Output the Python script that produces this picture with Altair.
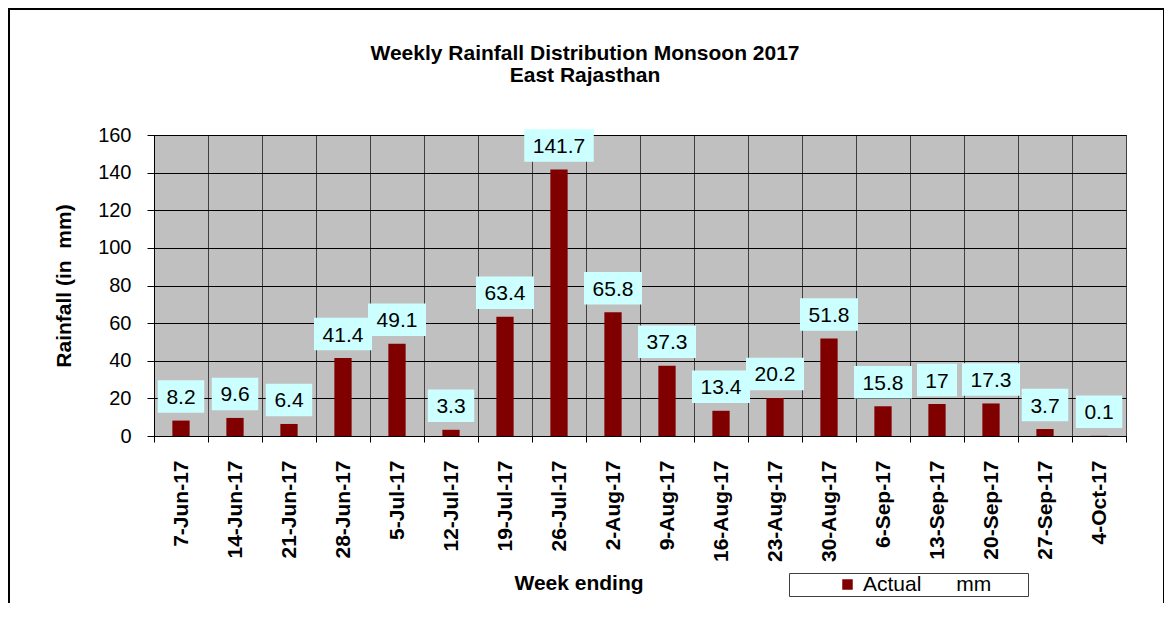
import altair as alt
import pandas as pd

# ---- data ----
weeks = ["7-Jun-17", "14-Jun-17", "21-Jun-17", "28-Jun-17", "5-Jul-17", "12-Jul-17",
         "19-Jul-17", "26-Jul-17", "2-Aug-17", "9-Aug-17", "16-Aug-17", "23-Aug-17",
         "30-Aug-17", "6-Sep-17", "13-Sep-17", "20-Sep-17", "27-Sep-17", "4-Oct-17"]
rainfall = [8.2, 9.6, 6.4, 41.4, 49.1, 3.3, 63.4, 141.7, 65.8, 37.3, 13.4, 20.2,
            51.8, 15.8, 17, 17.3, 3.7, 0.1]
y_ticks = [0, 20, 40, 60, 80, 100, 120, 140, 160]
series_name = "Actual" + "\u00a0" * 6 + "mm"
title_lines = ["Weekly Rainfall Distribution Monsoon 2017", "East Rajasthan"]
x_title = "Week ending"
y_title = "Rainfall (in\u00a0\u00a0mm)"

df = pd.DataFrame({"week": weeks, "rainfall": rainfall, "series": series_name})

FONT = "Liberation Sans"
BAR = "#800000"
BOX = "#CCFFFF"
ZW = "\u200b"
NB = "\u00a0"

# label box shapes (custom symbol paths, scaled by sqrt(size)/2 = 50)
def rect_path(hw, hh):
    return f"M{-hw},{-hh}L{hw},{-hh}L{hw},{hh}L{-hw},{hh}Z"

box_paths = [rect_path(0.40, 0.325), rect_path(0.465, 0.325),
             rect_path(0.58, 0.325), rect_path(0.695, 0.325)]

x_enc = alt.X(
    "week:N", sort=weeks,
    scale=alt.Scale(paddingInner=0, paddingOuter=0),
    title=x_title,
    axis=alt.Axis(
        labelAngle=270, labelFont=FONT, labelFontSize=21, labelFontWeight="bold",
        labelColor="black", labelPadding=18, labelLimit=300,
        tickBand="extent", tickSize=6, tickColor="black",
        grid=True, gridColor="#404040", gridWidth=1,
        domainColor="black",
        titleFont=FONT, titleFontSize=21, titleFontWeight="bold", titleColor="black",
        titleX=424.5, titleY=153.3, titleBaseline="alphabetic", titleAlign="center",
        titleAngle=0,
    ),
)
y_enc = alt.Y(
    "rainfall:Q",
    scale=alt.Scale(domain=[0, 160], nice=False),
    title=y_title,
    axis=alt.Axis(
        values=y_ticks, labelFont=FONT, labelFontSize=20, labelColor="black",
        labelPadding=16, tickSize=7, tickColor="black",
        grid=True, gridColor="black", gridWidth=1, domainColor="black",
        titleFont=FONT, titleFontSize=21, titleFontWeight="bold", titleColor="black",
        titleX=-84, titleY=150.5, titleAngle=270, titleAlign="center",
        titleBaseline="alphabetic",
    ),
)

bars = alt.Chart(df).mark_bar(width=alt.RelativeBandSize(0.32)).encode(
    x=x_enc, y=y_enc,
    color=alt.Color(
        "series:N", scale=alt.Scale(range=[BAR]),
        legend=alt.Legend(
            orient="none", legendX=635, legendY=438, direction="horizontal",
            title=ZW + NB * 8 + ZW, titleOrient="left", titleFontSize=21,
            titlePadding=0, titleFont=FONT,
            labelFont=FONT, labelFontSize=21, labelColor="black", labelLimit=400,
            labelExpr="datum.label + '" + NB * 6 + ZW + "'",
            symbolType="square", symbolSize=110, symbolStrokeWidth=0, labelOffset=5,
            padding=1, strokeColor="#404040", fillColor="white",
        ),
    ),
)

boxes = alt.Chart(df).transform_calculate(
    nchar="length(format(datum.rainfall, '.1~f'))"
).mark_point(filled=True, size=10000, opacity=1, color=BOX, strokeWidth=0,
             yOffset=-24).encode(
    x=x_enc, y=y_enc,
    shape=alt.Shape("nchar:O", scale=alt.Scale(domain=[2, 3, 4, 5], range=box_paths),
                    legend=None),
)

labels = alt.Chart(df).mark_text(
    font=FONT, fontSize=21, baseline="alphabetic", align="center", dy=-16.5,
    color="black"
).encode(
    x=x_enc, y=y_enc,
    text=alt.Text("rainfall:Q", format=".1~f"),
)

frame = alt.Chart(pd.DataFrame({"k": [0]})).mark_rect(
    fill="white", fillOpacity=0, stroke="black", strokeWidth=2
).encode(
    x=alt.value(-145), x2=alt.value(1010), y=alt.value(-126), y2=alt.value(480)
)

chart = alt.layer(frame, bars, boxes, labels).properties(
    width=972, height=301,
    padding={"left": 146, "top": 127, "right": 38, "bottom": 167},
    autosize=alt.AutoSizeParams(type="none"),
    background="white",
    title=alt.TitleParams(
        text=title_lines, font=FONT, fontSize=21, fontWeight="bold", color="black",
        anchor="middle", frame="group", baseline="bottom", offset=-98.7, dx=-55,
        lineHeight=22,
    ),
).configure_view(fill="#C0C0C0", stroke="black", strokeWidth=1)

chart.save("out.html", embed_options={"renderer": "svg", "actions": False})
